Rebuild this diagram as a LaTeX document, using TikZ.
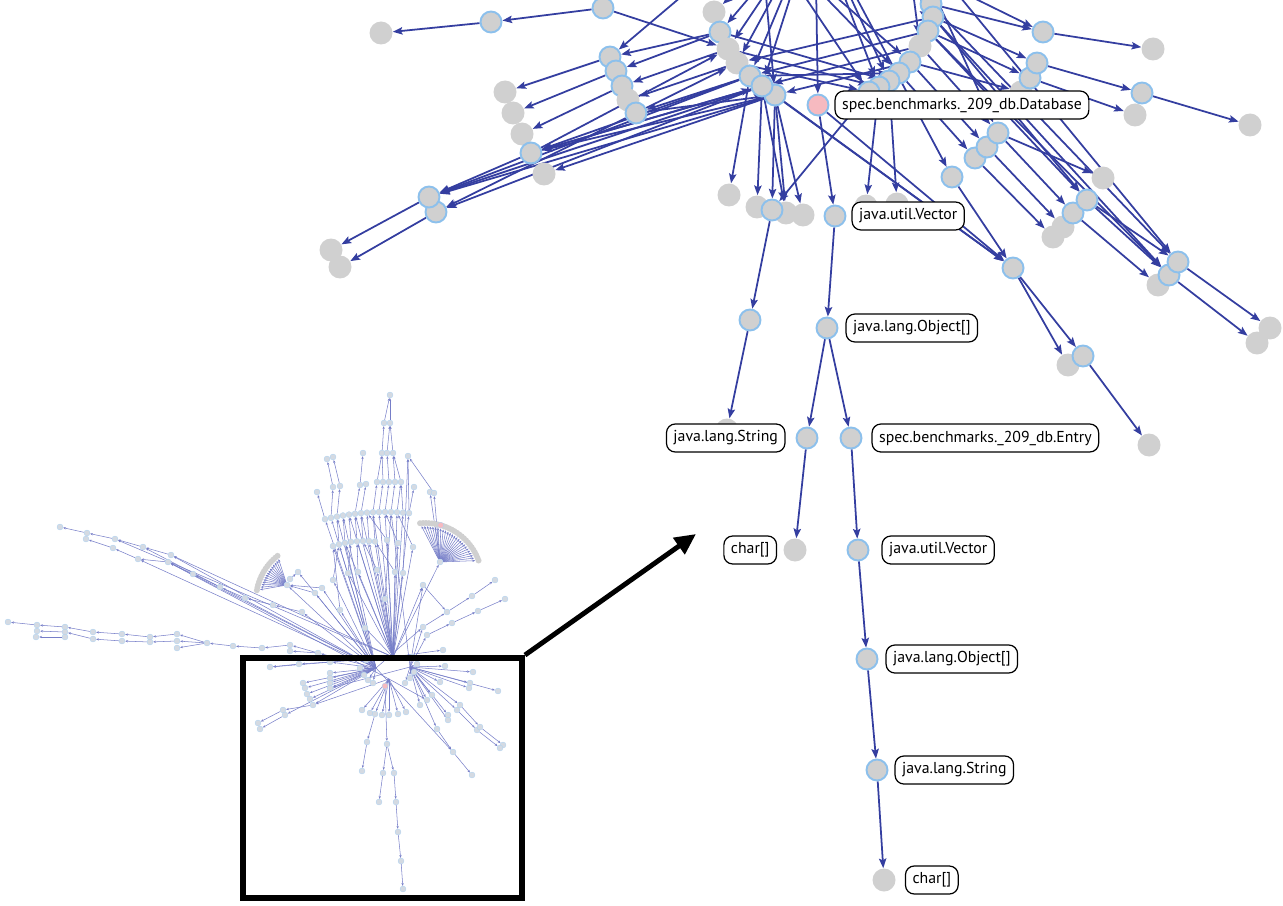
\documentclass[tikz,border=0pt]{standalone}
\usepackage{fontspec}
\setmainfont{PT Sans}
\usetikzlibrary{positioning}
\usetikzlibrary{arrows.meta}
\definecolor{edgeblue}{RGB}{52,62,160}
\definecolor{nodegray}{RGB}{208,208,208}
\definecolor{rimblue}{RGB}{140,192,236}
\definecolor{hotpink}{RGB}{246,186,192}
\definecolor{miniedge}{RGB}{118,126,200}
\definecolor{minifill}{RGB}{212,218,226}
\pgfdeclarelayer{edges}
\pgfsetlayers{edges,main}
\tikzset{
	obj/.style={circle, fill=nodegray, draw=rimblue, line width=1.1pt, minimum size=0.42cm, inner sep=0pt},
	leaf/.style={circle, fill=nodegray, minimum size=0.46cm, inner sep=0pt},
	root/.style={obj, fill=hotpink},
	tag/.style={draw=black, line width=0.7pt, rounded corners=5pt, fill=white,
		minimum height=0.56cm, inner xsep=4pt, font=\fontsize{9}{10}\selectfont},
	ref/.style={-{Stealth[length=5.5pt, width=4.2pt, inset=1pt]}, edgeblue, line width=1pt},
	mini/.style={circle, fill=minifill, draw=rimblue!70, line width=0.2pt, minimum size=0.12cm, inner sep=0pt},
	minileaf/.style={circle, fill=nodegray, minimum size=0.12cm, inner sep=0pt},
	minipink/.style={mini, fill=hotpink},
	miniref/.style={-{Stealth[length=1.6pt, width=1.3pt]}, miniedge, line width=0.3pt},
	zoomarrow/.style={-{Triangle[length=12pt, width=11pt]}, black, line width=2.8pt},
}

\begin{document}
\begin{tikzpicture}[x=0.02cm, y=-0.02cm]
	
	\clip (0,0) rectangle (1283,905);
	
	% ---- hubs above the frame ----
	\coordinate (hubA) at (760,-70);
	\coordinate (hubB) at (815,-80);
	\coordinate (hubC) at (905,-70);
	
	% ---- upper left ----
	\node[obj] (t1) at (603,8) {};
	\node[obj] (t2) at (491,22) {};
	\node[leaf] (t3) at (381,33) {};
	\node[obj] (a1) at (610,57) {};
	\node[obj] (a2) at (616,71) {};
	\node[obj] (a3) at (622,86) {};
	\node[leaf] (a4) at (628,100) {};
	\node[obj] (a5) at (636,113) {};
	\node[leaf] (b1) at (505,92) {};
	\node[leaf] (b2) at (513,113) {};
	\node[leaf] (b3) at (522,134) {};
	\node[obj] (b4) at (531,153) {};
	\node[leaf] (b5) at (544,174) {};
	\node[obj] (c2) at (436,212) {};
	\node[obj] (c1) at (429,197) {};
	\node[leaf] (d1) at (331,250) {};
	\node[leaf] (d2) at (340,267) {};
	
	% ---- left arc ----
	\node[leaf] (l0) at (714,12) {};
	\node[obj] (l1) at (720,32) {};
	\node[leaf] (l2) at (728,49) {};
	\node[leaf] (l3) at (737,63) {};
	\node[obj] (l4) at (750,76) {};
	\node[obj] (l6) at (775,95) {};
	\node[obj] (l5) at (762,86) {};
	
	% ---- right arc ----
	\node[obj] (r0) at (931,4) {};
	\node[obj] (r1) at (933,17) {};
	\node[obj] (r2) at (928,31) {};
	\node[leaf] (r3) at (920,46) {};
	\node[obj] (r4) at (910,62) {};
	\node[obj] (r5) at (899,73) {};
	\node[obj] (r6) at (889,81) {};
	\node[obj] (r7) at (879,87) {};
	\node[obj] (r8) at (869,92) {};
	\node[root] (db) at (818,105) {};
	
	% ---- far right ----
	\node[obj] (e1) at (1043,32) {};
	\node[leaf] (e1x) at (1153,49) {};
	\node[leaf] (e3y) at (1021,92) {};
	\node[obj] (e3) at (1030,78) {};
	\node[obj] (e2) at (1037,63) {};
	\node[obj] (e4) at (1142,93) {};
	\node[leaf] (e4x) at (1250,125) {};
	\node[leaf] (e3x) at (1135,115) {};
	\node[obj] (s3) at (975,158) {};
	\node[obj] (s2) at (987,147) {};
	\node[obj] (s1) at (998,133) {};
	\node[leaf] (s4) at (1103,178) {};
	\node[obj] (s5) at (952,177) {};
	\node[leaf] (u4) at (1053,237) {};
	\node[leaf] (u3) at (1063,227) {};
	\node[obj] (u2) at (1073,213) {};
	\node[obj] (u1) at (1087,200) {};
	\node[leaf] (v3) at (1158,285) {};
	\node[obj] (v2) at (1169,275) {};
	\node[obj] (v1) at (1178,262) {};
	\node[leaf] (w1) at (1270,328) {};
	\node[leaf] (w2) at (1257,343) {};
	\node[obj] (m1) at (1013,268) {};
	\node[leaf] (m3) at (1068,365) {};
	\node[obj] (m2) at (1083,356) {};
	\node[leaf] (m4) at (1149,445) {};
	
	% ---- under the left arc ----
	\node[leaf] (g1) at (729,195) {};
	\node[leaf] (g2) at (757,207) {};
	\node[leaf] (g5) at (803,215) {};
	\node[leaf] (g4) at (786,213) {};
	\node[obj] (g3) at (772,210) {};
	\node[leaf] (g6) at (866,206) {};
	\node[leaf] (g7) at (897,204) {};
	\node[obj] (n1) at (750,320) {};
	\node[leaf] (n2) at (727,430) {};
	
	% ---- the labelled chain ----
	\node[obj] (vecA) at (835,216) {};
	\node[obj] (arrA) at (827,328) {};
	\node[obj] (strA) at (807,438) {};
	\node[obj] (entry) at (851,438) {};
	\node[leaf] (chrA) at (795,550) {};
	\node[obj] (vecB) at (858,550) {};
	\node[obj] (arrB) at (867,659) {};
	\node[obj] (strB) at (877,770) {};
	\node[leaf] (chrB) at (884,880) {};
	
	\begin{pgfonlayer}{edges}
		\clip (0,0) rectangle (1283,905);
		\foreach \a/\b in {t1/t2, t2/t3, t1/l2, l1/a1, l1/a2, l2/a3, l3/a4, l4/a5,
			a1/b1, a2/b2, a3/b3, a5/l3, b4/l2, l5/b4, l6/b4, l4/b4, l6/b5,
			b4/c1, l6/c1, l4/c1, l5/c1, a5/c2, l5/c2, c1/d1, c2/d2,
			hubB/l0, hubB/l1, hubB/l2, hubB/l3, hubB/l4, hubB/l5, hubA/l6, hubB/db,
			hubA/r4, hubA/r5, hubB/r6, hubB/r7, hubA/r8, hubB/s5, hubA/a1, hubC/r0,
			hubC/r1, hubC/r2, hubC/r3, hubB/e1, hubC/s1, hubC/v1,
			l1/r6, l2/r7, l3/r8, l4/r5, r2/l4, r3/l5, r4/l6, r1/l3, a5/l6, b4/l5,
			r0/e1, r1/e2, r2/e3, e1/e1x, e2/e4, e4/e4x, e3/e3x, r4/e3y,
			r3/s1, r4/s2, r5/s3, s1/s4, s1/u2, s2/u3, s3/u4, r1/u1, r2/u1,
			r0/v1, r1/v2, r2/v2, u1/v1, u1/v2, u2/v3, v1/w1, v2/w2,
			l5/m1, l6/m1, db/m1, s5/m1, m1/m2, m1/m3, m2/m4,
			l4/g1, l5/g2, l6/g3, l6/g4, l6/g5, l5/g4, r8/g3, r7/g6, r6/g7, db/vecA,
			g3/n1, n1/n2, vecA/arrA, arrA/strA, arrA/entry, strA/chrA,
			entry/vecB, vecB/arrB, arrB/strB, strB/chrB}
		\draw[ref] (\a) -- (\b);
	\end{pgfonlayer}
	
	% ---- labels ----
	\node[tag, right=0.1cm of db] (dbtag) {spec.benchmarks.\_209\_db.Database};
	\node[tag, right=0.1cm of vecA] (vecAtag) {java.util.Vector};
	\node[tag, right=0.14cm of arrA] (arrAtag) {java.lang.Object[]};
	\node[tag, left=0.2cm of strA] (strAtag) {java.lang.String};
	\node[tag, right=0.18cm of entry] (entrytag) {spec.benchmarks.\_209\_db.Entry};
	\node[tag, left=0.12cm of chrA] (chrAtag) {char[]};
	\node[tag, right=0.24cm of vecB] (vecBtag) {java.util.Vector};
	\node[tag, right=0.14cm of arrB] (arrBtag) {java.lang.Object[]};
	\node[tag, right=0.12cm of strB] (strBtag) {java.lang.String};
	\node[tag, right=0.18cm of chrB] (chrBtag) {char[]};
	
	% ---- overview of the whole graph ----
	\coordinate (hubP) at (376,668);
	\coordinate (hubQ) at (393,657);
	\coordinate (hubR) at (410,667);
	\coordinate (hubS) at (389,679);
	\foreach \n/\x/\y in {q1/390/395, q2/384/423, q3/390/423, q4/382/453, q5/387/453, q6/393/453,
		q7/377/482, q8/383/482, q9/389/482, q10/395/482, q11/401/482,
		u1/327/459, u2/333/457, u3/363/453, u4/408/456, u5/333/487, u6/340/486,
		u7/360/485, u8/366/484, u9/414/487, u10/317/492, u11/430/492, u12/434/493}
	\node[mini] (\n) at (\x,\y) {};
	\foreach \x [count=\i] in {325,331,...,409}
	\node[mini] (A\i) at (\x,{512+(\x-385)^2/500}) {};
	\foreach \x [count=\i] in {333,339,...,375}
	\node[mini] (B\i) at (\x,{541+(\x-365)^2/200}) {};
	\foreach \t [count=\i] in {95,92,...,20}
	\node[minileaf] (F\i) at ({425+57*cos(\t)},{580-57*sin(\t)}) {};
	\node[minipink] (Fp) at ({425+57*cos(74)},{580-57*sin(74)}) {};
	\node[mini] (fc) at (440,562) {};
	\foreach \t [count=\i] in {128,131,...,172}
	\node[minileaf] (G\i) at ({312+56*cos(\t)},{600-56*sin(\t)}) {};
	\node[mini] (gc) at (287,585) {};
	\foreach \n/\x/\y in {D1/60/527, D2/87/533, D3/86/539, D4/115/539, D5/113/548, D6/143/547,
		D7/138/559, D8/171/555, D9/168/562, D10/193/574, D11/220/587, D12/245/598,
		D13/273/605, D14/302/612,
		H1/8/622, H2/37/625, H3/37/631, H4/36/637, H5/65/627, H6/65/632, H7/65/637,
		H8/93/632, H9/93/639, H10/122/634, H11/122/641, H12/150/637, H13/150/642,
		H14/177/634, H15/177/641, H16/177/648, H17/207/643, H18/233/646, H19/262/648,
		H20/290/645, H21/290/651, H22/318/653,
		R1/495/580, R2/472/596, R3/447/612, R4/423/627, R5/505/599, R6/478/611,
		R7/452/623, R8/427/635,
		M1/385/599, M2/395/572, M3/403/573, M4/423/585, M5/365/628, M6/340/610,
		M7/298/572, M8/290/579, M9/315/593, M10/322/588, M11/413/547, M12/398/543,
		M13/387/540, M14/377/570, M15/348/573, M16/358/572, M17/333/580,
		K1/360/668, K2/364/675, K3/368/680, K4/373/683, K5/405/683, K6/410/678,
		K7/414/672, K8/417/664, K9/366/660, K10/412/657,
		L1/270/667, L2/299/664, L3/330/662, L4/303/683, L5/305/688, L6/307/694,
		L7/310/699, L8/313/705, L9/330/673, L10/330/678, L11/330/683, L12/330/688,
		L13/283/710, L14/285/715, L15/258/723, L16/260/729,
		N1/362/710, N2/370/713, N3/375/714, N4/382/715, N5/389/715, N6/398/714, N7/406/712,
		P1/367/742, P2/387/744, P3/362/771, P4/383/773, P5/394/773, P6/379/802,
		P7/396/802, P8/398/832, P9/401/861, P10/403/889,
		S1/420/705, S2/427/700, S3/432/695, S4/437/729, S5/453/752, S6/472/775,
		S7/448/715, S8/448/720, S9/457/710, S10/460/705, S11/477/730, S12/480/727,
		S13/470/683, S14/469/688, S15/473/672, S16/498/691, S17/503/745, S18/500/748,
		S19/443/650, S20/445/666, S21/440/682}
	\node[mini] (\n) at (\x,\y) {};
	\node[minipink] (Kp) at (385,686) {};
	
	\begin{pgfonlayer}{edges}
		\foreach \a/\b in {q2/q1, q3/q1, q4/q2, q5/q3, q6/q3, q7/q4, q8/q4, q9/q5,
			q10/q6, q11/q6, A9/q7, A10/q8, A11/q9, A12/q10, A13/q11, A14/q11,
			A2/u5, A3/u6, A1/u10, A6/u7, A7/u8, A15/u9, A15/u4, u5/u1, u6/u2, u7/u3,
			fc/u11, fc/u12, u12/u4, B2/A3, B3/A4, B4/A5, B5/A6, B6/A7, B7/A8, B8/A9,
			D2/D1, D4/D2, D5/D3, D6/D4, D7/D5, D8/D6, D9/D7, D10/D9, D11/D10,
			D12/D11, D13/D12, D14/D13,
			H2/H1, H5/H2, H6/H3, H7/H4, H8/H5, H9/H6, H10/H8, H11/H9, H12/H10,
			H13/H11, H14/H12, H15/H13, H17/H14, H17/H15, H17/H16, H18/H17, H19/H18,
			H20/H19, H22/H20, H22/H21,
			R2/R1, R3/R2, R4/R3, R6/R5, R7/R6, R8/R7,
			M13/A8, M12/A11, M11/A13, M2/B8, M14/B6, M6/B1, M17/B2, M15/B4, M16/B5,
			M4/R3, M10/gc, M9/gc, M8/M7, M1/A12, M3/u4, M5/B3,
			L2/L1, L3/L2, L8/L13, L13/L15, L14/L16,
			N3/P1, Kp/P2, P1/P3, P2/P4, P2/P5, P4/P6, P5/P7, P7/P8, P8/P9, P9/P10,
			S4/S5, S5/S6, S10/S12, S9/S11, S12/S17, S11/S18}
		\draw[miniref] (\a) -- (\b);
		\foreach \n in {A1,A2,A3,A4,B1,B2,D6,D7,D8,D9,D14,H22,gc,M6,M7,M9,M10,M17,
			L3,L4,L5,L6,L7,L8,L9,L10,L11,L12,L14,K1,K2,K3,K4,K9,S5,R4}
		\draw[miniref] (hubP) -- (\n);
		\foreach \n in {A5,A7,A9,A11,A13,A15,A6,A10,A14,B3,B5,B7,B8,fc,M1,M2,M3,M4,
			M5,M11,M12,M13,M14,M15,M16,K10,S19,D8,D4,L1}
		\draw[miniref] (hubQ) -- (\n);
		\foreach \n in {R4,R8,S1,S2,S3,S4,S7,S8,S9,S10,S13,S14,S15,S16,S20,S21,
			K5,K6,K7,K8,A12,M4,L12}
		\draw[miniref] (hubR) -- (\n);
		\foreach \n in {N1,N2,N3,N4,N5,N6,N7,Kp,D9,S2,L8}
		\draw[miniref] (hubS) -- (\n);
		\foreach \i in {1,...,26}
		\draw[miniref] (fc) -- (F\i);
		\foreach \i in {1,...,15}
		\draw[miniref] (gc) -- (G\i);
	\end{pgfonlayer}
	
	% ---- inset frame and pointer ----
	\node[draw=black, line width=3.4pt, minimum width=5.58cm, minimum height=4.8cm,
	inner sep=0pt] (inset) at (382.5,778) {};
	\coordinate (tip) at (696,534);
	\draw[zoomarrow] (inset.north east) -- (tip);
	
\end{tikzpicture}
\end{document}
